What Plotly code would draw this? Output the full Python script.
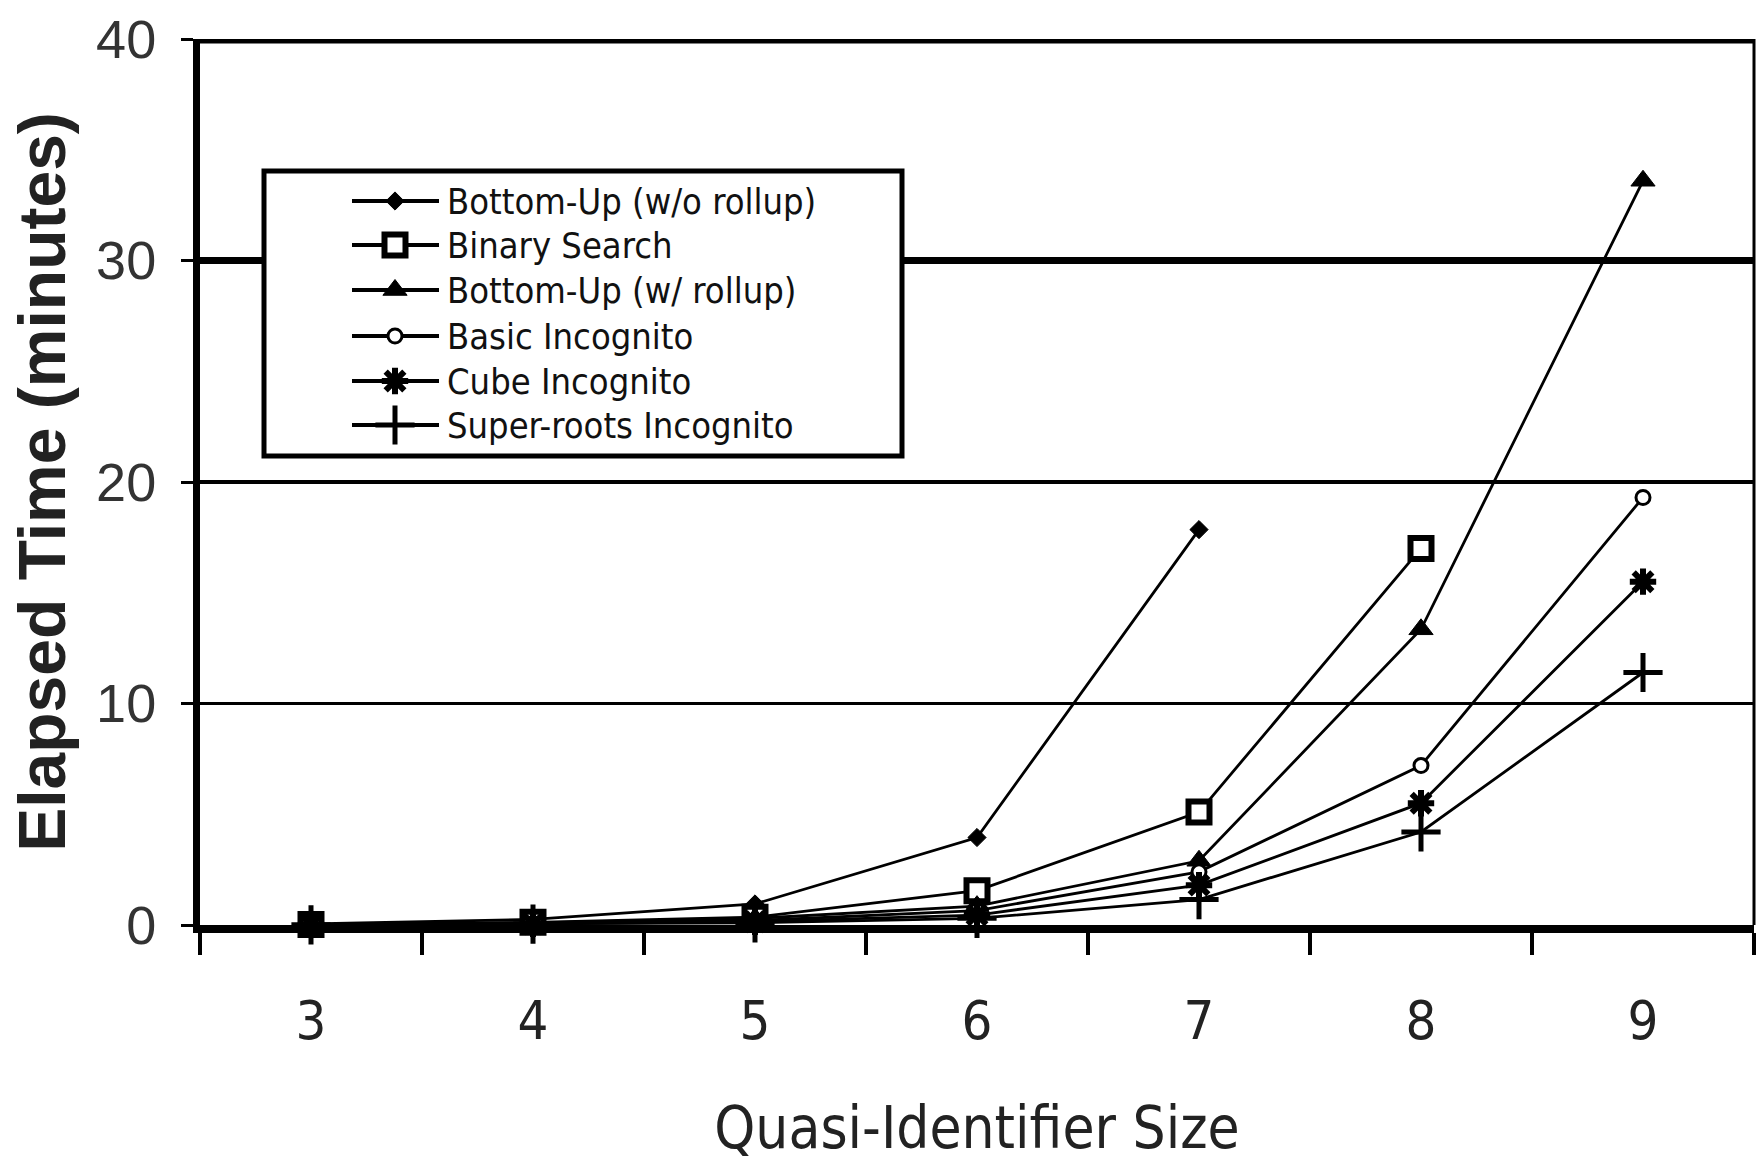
import plotly.graph_objects as go

# Quasi-identifier sizes (x categories)
qi_sizes = ["3", "4", "5", "6", "7", "8", "9"]

# Elapsed time in minutes per algorithm
bottom_up_no_rollup = [0.05, 0.25, 0.95, 3.95, 17.85, None, None]
binary_search = [0.02, 0.12, 0.35, 1.55, 5.1, 17.0, None]
bottom_up_rollup = [0.02, 0.10, 0.30, 0.85, 2.9, 13.35, 33.6]
basic_incognito = [0.01, 0.06, 0.20, 0.65, 2.4, 7.2, 19.3]
cube_incognito = [0.01, 0.05, 0.15, 0.45, 1.8, 5.5, 15.5]
superroots_incognito = [0.01, 0.04, 0.10, 0.30, 1.15, 4.2, 11.4]

series_names = [
    "Bottom-Up (w/o rollup)",
    "Binary Search",
    "Bottom-Up (w/ rollup)",
    "Basic Incognito",
    "Cube Incognito",
    "Super-roots Incognito",
]
series_values = [
    bottom_up_no_rollup,
    binary_search,
    bottom_up_rollup,
    basic_incognito,
    cube_incognito,
    superroots_incognito,
]

y_ticks = [0, 10, 20, 30, 40]
grid_levels = [10, 20, 30, 40]
grid_widths = [3, 4, 7, 9]

NARROW = "Liberation Sans Narrow, Arial Narrow, DejaVu Sans Condensed, sans-serif"
ARIAL = "Liberation Sans, Arial, sans-serif"

marker_styles = [
    dict(symbol="diamond", size=14, color="black", line=dict(width=1, color="black")),
    dict(symbol="square", size=21, color="white", line=dict(width=6, color="black")),
    dict(symbol="triangle-up", size=21, color="black", line=dict(width=1, color="black")),
    dict(symbol="circle", size=14, color="white", line=dict(width=3, color="black")),
    dict(symbol="asterisk-open", size=22, color="black", line=dict(width=6, color="black")),
    dict(symbol="cross-thin-open", size=28, color="black", line=dict(width=5, color="black")),
]

# Figure geometry (pixels)
W, H = 1757, 1162
ML, MR, MT, MB = 200, 3, 39, 237

fig = go.Figure()

for name, vals, mk in zip(series_names, series_values, marker_styles):
    fig.add_trace(go.Scatter(
        x=qi_sizes, y=vals, name=name, mode="lines+markers",
        line=dict(color="black", width=2.8),
        marker=mk, showlegend=False, cliponaxis=False,
    ))

# Hand-drawn legend on a pixel-unit overlay axis pair
px_left, px_right = ML, W - MR
px_top, px_bottom = MT, H - MB
legend_rows = [201, 245, 290, 336, 381, 425]
line_x0, line_x1, mark_x, text_x = 352, 439, 395, 445
for name, mk, ry in zip(series_names, marker_styles, legend_rows):
    fig.add_trace(go.Scatter(
        x=[line_x0, line_x1], y=[ry, ry], mode="lines",
        line=dict(color="black", width=4), xaxis="x2", yaxis="y2",
        showlegend=False, hoverinfo="skip",
    ))
    fig.add_trace(go.Scatter(
        x=[mark_x], y=[ry], mode="markers", marker=mk,
        xaxis="x2", yaxis="y2", showlegend=False, hoverinfo="skip",
    ))
    fig.add_annotation(
        x=text_x, y=ry, xref="x2", yref="y2", text=name, showarrow=False,
        xanchor="left", yanchor="middle",
        font=dict(family=NARROW, size=36, color="#111"),
    )

shapes = []
for lvl, w in zip(grid_levels, grid_widths):
    shapes.append(dict(type="line", xref="paper", yref="y", x0=0, x1=1,
                       y0=lvl, y1=lvl, line=dict(color="black", width=w),
                       layer="below"))
# right-hand frame edge
shapes.append(dict(type="line", xref="paper", yref="paper", x0=1, x1=1,
                   y0=0, y1=1, line=dict(color="black", width=3)))
# legend frame (drawn under the traces so the samples stay visible)
shapes.append(dict(type="rect", xref="x2", yref="y2", x0=264, x1=902,
                   y0=171, y1=456, line=dict(color="black", width=5),
                   fillcolor="white", layer="below"))

fig.update_layout(
    width=W, height=H,
    margin=dict(l=ML, r=MR, t=MT, b=MB),
    paper_bgcolor="white", plot_bgcolor="white",
    showlegend=False,
    shapes=shapes,
    xaxis=dict(
        type="category", range=[-0.5, 6.5], tickson="boundaries",
        showgrid=False, zeroline=False,
        showline=True, linecolor="black", linewidth=8,
        ticks="outside", ticklen=22, tickwidth=4, tickcolor="black",
        tickfont=dict(family=NARROW, size=54, color="#222"),
        ticklabelstandoff=41,
        title=dict(text="Quasi-Identifier Size",
                   font=dict(family=NARROW, size=58, color="#222"),
                   standoff=66),
    ),
    yaxis=dict(
        range=[0, 40], tickvals=y_ticks,
        showgrid=False, zeroline=False,
        showline=True, linecolor="black", linewidth=7,
        ticks="outside", ticklen=12, tickwidth=3, tickcolor="black",
        tickfont=dict(family=ARIAL, size=54, color="#333"),
        ticklabelstandoff=14,
        title=dict(text="<b>Elapsed Time (minutes)</b>",
                   font=dict(family=ARIAL, size=66, color="#222"),
                   standoff=12),
    ),
    xaxis2=dict(domain=[0, 1], range=[px_left, px_right], anchor="y2",
                overlaying="x", visible=False, fixedrange=True),
    yaxis2=dict(domain=[0, 1], range=[px_bottom, px_top], anchor="x2",
                overlaying="y", visible=False, fixedrange=True),
)

fig.write_html("out.html")
